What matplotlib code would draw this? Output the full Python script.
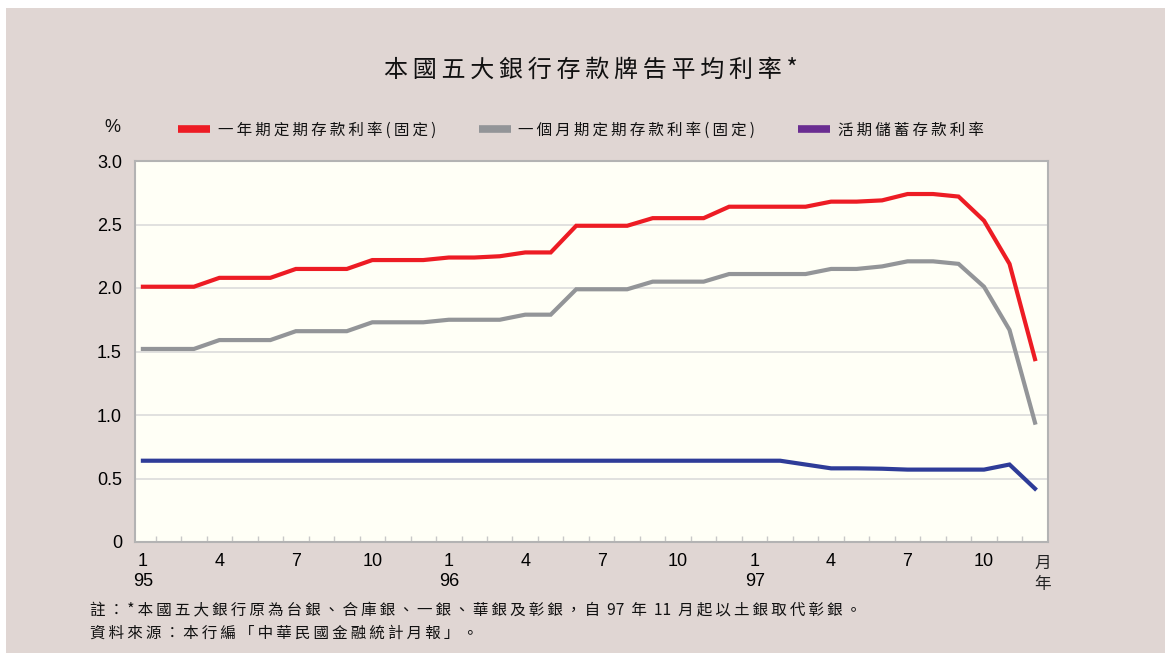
import matplotlib
matplotlib.use("Agg")
import matplotlib.pyplot as plt
from matplotlib.lines import Line2D
from matplotlib.patches import Rectangle

# ---------------- data ----------------
title = "本國五大銀行存款牌告平均利率*"
series_names = ["一年期定期存款利率(固定)", "一個月期定期存款利率(固定)", "活期儲蓄存款利率"]
months = [1, 2, 3, 4, 5, 6, 7, 8, 9, 10, 11, 12] * 3
years = [95] * 12 + [96] * 12 + [97] * 12

one_year = [2.01, 2.01, 2.01, 2.08, 2.08, 2.08, 2.15, 2.15, 2.15, 2.22, 2.22, 2.22,
            2.24, 2.24, 2.25, 2.28, 2.28, 2.49, 2.49, 2.49, 2.55, 2.55, 2.55, 2.64,
            2.64, 2.64, 2.64, 2.68, 2.68, 2.69, 2.74, 2.74, 2.72, 2.53, 2.19, 1.44]
one_month = [1.52, 1.52, 1.52, 1.59, 1.59, 1.59, 1.66, 1.66, 1.66, 1.73, 1.73, 1.73,
             1.75, 1.75, 1.75, 1.79, 1.79, 1.99, 1.99, 1.99, 2.05, 2.05, 2.05, 2.11,
             2.11, 2.11, 2.11, 2.15, 2.15, 2.17, 2.21, 2.21, 2.19, 2.01, 1.67, 0.94]
savings = [0.64, 0.64, 0.64, 0.64, 0.64, 0.64, 0.64, 0.64, 0.64, 0.64, 0.64, 0.64,
           0.64, 0.64, 0.64, 0.64, 0.64, 0.64, 0.64, 0.64, 0.64, 0.64, 0.64, 0.64,
           0.64, 0.64, 0.61, 0.58, 0.58, 0.577, 0.57, 0.57, 0.57, 0.57, 0.61, 0.42]

yticks = [0, 0.5, 1.0, 1.5, 2.0, 2.5, 3.0]
ytick_labels = ["0", "0.5", "1.0", "1.5", "2.0", "2.5", "3.0"]
note1 = "註：*本國五大銀行原為台銀、合庫銀、一銀、華銀及彰銀，自  97  年  11  月起以土銀取代彰銀。"
note2 = "資料來源：本行編「中華民國金融統計月報」。"

# ---------------- style ----------------
RED = "#ed1c24"
GRAY = "#939598"
BLUE = "#2e3c98"
PURPLE = "#6a2d91"
BG = "#e0d6d3"
PLOT_BG = "#fffff6"
CJK = ["Noto Sans CJK TC", "DejaVu Sans"]
LAT = ["Liberation Sans", "DejaVu Sans"]

plt.rcParams["font.family"] = CJK


def spaced(s):
    out = ""
    for i, ch in enumerate(s):
        out += ch
        if i < len(s) - 1:
            nxt = s[i + 1]
            if ch.isascii() and nxt.isascii() and ch != " " and nxt != " ":
                continue
            if ch == " " or nxt == " ":
                continue
            out += "\u2009"
    return out


W, H = 1171, 653
fig = plt.figure(figsize=(W / 100, H / 100), dpi=100, facecolor="white")
fig.patches.append(Rectangle((6 / W, 0), (1165 - 6) / W, (H - 8) / H,
                             transform=fig.transFigure, facecolor=BG,
                             edgecolor="none", zorder=-10))

left, right, top, bottom = 134.5, 1048, 161, 542
ax = fig.add_axes([left / W, 1 - bottom / H, (right - left) / W, (bottom - top) / H])
ax.set_facecolor(PLOT_BG)

x = list(range(len(one_year)))
ax.plot(x, one_year, color=RED, lw=3, solid_joinstyle="miter", zorder=3)
ax.plot(x, one_month, color=GRAY, lw=3, solid_joinstyle="miter", zorder=3)
ax.plot(x, savings, color=BLUE, lw=3, solid_joinstyle="miter", zorder=3)

ax.set_xlim(-0.33, 35.51)
ax.set_ylim(0, 3.0)

ax.set_yticks(yticks)
ax.set_yticklabels(ytick_labels, family=LAT, fontsize=13)
ax.tick_params(axis="y", length=0, pad=9)
for v in yticks[1:-1]:
    ax.axhline(v, color="#d9d9d9", lw=1.1, zorder=1)

major = [i for i in x if months[i] in (1, 4, 7, 10)]
labels = [f"{months[i]}\n{years[i]}" if months[i] == 1 else f"{months[i]}" for i in major]
ax.set_xticks(major)
ax.set_xticklabels(labels, family=LAT, fontsize=13, linespacing=1.2, va="top")
ax.tick_params(axis="x", length=0, pad=8)
ax.set_xticks([i + 0.5 for i in x[:-1]], minor=True)
ax.tick_params(axis="x", which="minor", direction="in", length=4, color="#c8c8c8", width=1)

for sp in ax.spines.values():
    sp.set_color("#b3b3b3")
    sp.set_linewidth(1.5)

fig.text(1043 / W, 1 - 563 / H, "月", ha="center", va="center", fontsize=12, color="#222222")
fig.text(1043 / W, 1 - 585 / H, "年", ha="center", va="center", fontsize=12, color="#222222")

fig.text(112 / W, 1 - 127 / H, "%", ha="center", va="center", family=LAT, fontsize=13, color="#111111")

fig.text(591 / W, 1 - 70 / H, spaced(title), ha="center", va="center", fontsize=17.3, color="#111111")

handles = [Line2D([0], [0], color=RED, lw=5.5, solid_capstyle="butt"),
           Line2D([0], [0], color=GRAY, lw=5.5, solid_capstyle="butt"),
           Line2D([0], [0], color=PURPLE, lw=5.5, solid_capstyle="butt")]
leg = fig.legend(handles, [spaced(s) for s in series_names], ncol=3, frameon=False,
                 loc="center left", bbox_to_anchor=(178 / W, 1 - 130 / H),
                 borderpad=0, borderaxespad=0, handlelength=2.05, handletextpad=0.5,
                 columnspacing=2.75, prop={"family": CJK, "size": 11.2})
for t in leg.get_texts():
    t.set_color("#111111")

fig.text(90 / W, 1 - 611 / H, spaced(note1), ha="left", va="center", fontsize=11.2, color="#111111")
fig.text(90 / W, 1 - 633 / H, spaced(note2), ha="left", va="center", fontsize=11.2, color="#111111")

fig.savefig("out.png", dpi=100, facecolor=fig.get_facecolor())
